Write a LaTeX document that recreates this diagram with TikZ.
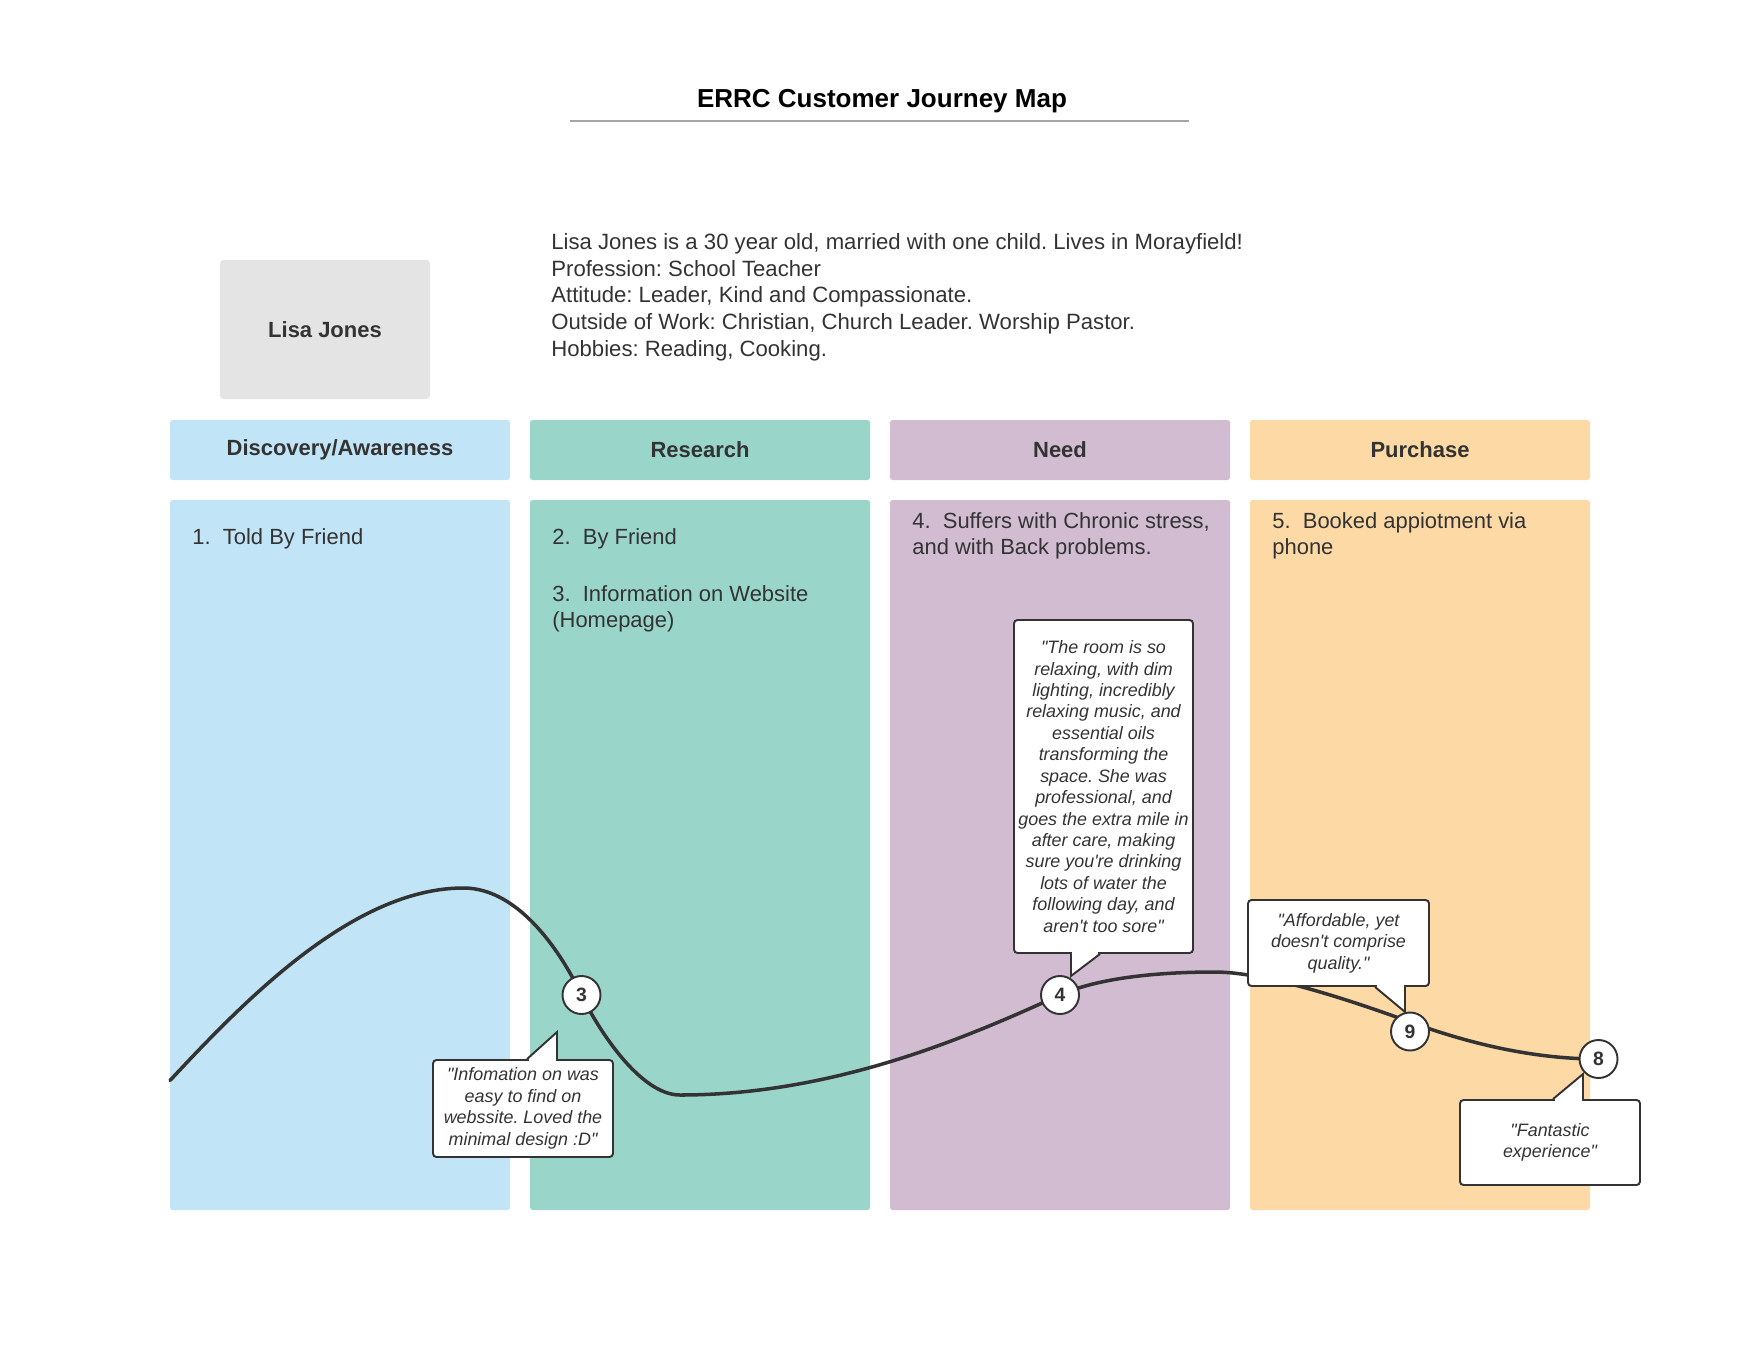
\documentclass[tikz,border=0pt]{standalone}
\usepackage{fontspec}
\setmainfont{Liberation Sans}
\usetikzlibrary{positioning}

\definecolor{ink}{HTML}{333333}
\definecolor{discblue}{HTML}{C1E4F6}
\definecolor{resteal}{HTML}{9AD5CA}
\definecolor{needmauve}{HTML}{D2BCD2}
\definecolor{buyorange}{HTML}{FDD9A6}
\definecolor{personagrey}{HTML}{E4E4E4}

\frenchspacing

\begin{document}
\begin{tikzpicture}[
    node distance=0.4cm,
    every node/.style={text=ink},
    stagehead/.style={rectangle, rounded corners=1.5pt, outer sep=0pt, minimum width=6.8cm, minimum height=1.2cm, font=\fontsize{12.5}{15}\selectfont\bfseries},
    stagebody/.style={rectangle, rounded corners=1.5pt, outer sep=0pt, minimum width=6.8cm, minimum height=14.2cm},
    stagetext/.style={anchor=north west, inner sep=0pt, align=left, font=\fontsize{12.5}{15}\selectfont},
    remark/.style={draw=ink, line width=1.1pt, fill=white, rounded corners=2pt, minimum width=3.6cm, inner sep=0pt, align=center, font=\fontsize{10.2}{12.2}\selectfont\itshape},
    touchpoint/.style={circle, draw=ink, line width=1.1pt, fill=white, minimum size=0.76cm, inner sep=0pt, font=\fontsize{11}{13}\selectfont\bfseries},
    tail/.style={draw=ink, line width=1.1pt, fill=white}
]
\useasboundingbox (0,0) rectangle (35.2,-27.2);

% Titulo
\node[anchor=base, text=black, font=\fontsize{14.8}{18}\selectfont\bfseries] (title) at (17.64,-2.16) {ERRC Customer Journey Map};
\draw[black!35, line width=1.1pt] (11.4,-2.42) -- (23.78,-2.42);

% Persona
\node[rectangle, rounded corners=2pt, fill=personagrey, minimum width=4.2cm, minimum height=2.78cm, font=\fontsize{12.5}{15}\selectfont\bfseries] (persona) at (6.5,-6.59) {Lisa Jones};

\node[stagetext, font=\fontsize{12.6}{15.2}\selectfont] (profile) at (11.02,-4.66)
{Lisa Jones is a 30 year old, married with one child. Lives in Morayfield!\\
Profession: School Teacher\\
Attitude: Leader, Kind and Compassionate.\\
Outside of Work: Christian, Church Leader. Worship Pastor.\\
Hobbies: Reading, Cooking.};

% Etapas
\node[stagehead, fill=discblue] (head1) at (6.8,-9) {Discovery/Awareness};
\node[stagehead, fill=resteal, right=of head1] (head2) {Research};
\node[stagehead, fill=needmauve, right=of head2] (head3) {Need};
\node[stagehead, fill=buyorange, right=of head3] (head4) {Purchase};

\node[stagebody, fill=discblue, below=of head1] (body1) {};
\node[stagebody, fill=resteal, below=of head2] (body2) {};
\node[stagebody, fill=needmauve, below=of head3] (body3) {};
\node[stagebody, fill=buyorange, below=of head4] (body4) {};

% Pasos
\node[stagetext] (step1) at ([shift={(0.44,-0.56)}]body1.north west) {1.~~Told By Friend};
\node[stagetext] (step2) at ([shift={(0.44,-0.56)}]body2.north west) {2.~~By Friend};
\node[stagetext] (step3) at ([shift={(0.44,-1.7)}]body2.north west) {3.~~Information on Website\\(Homepage)};
\node[stagetext] (step4) at ([shift={(0.44,-0.24)}]body3.north west) {4.~~Suffers with Chronic stress,\\and with Back problems.};
\node[stagetext] (step5) at ([shift={(0.44,-0.24)}]body4.north west) {5.~~Booked appiotment via\\phone};

% Curva
\coordinate (c3) at (11.63,-19.90);
\coordinate (c4) at (21.20,-19.90);
\coordinate (c9) at (28.20,-20.63);
\coordinate (c8) at (31.97,-21.18);

\draw[ink, line width=2pt, line cap=round]
  (3.40,-21.61) .. controls (4.9,-20.0) and (7.07,-17.76) .. (9.27,-17.76)
  .. controls (10.4,-17.76) and (11.25,-19.1) .. (c3)
  .. controls (11.96,-20.58) and (12.8,-21.9) .. (13.6,-21.9)
  .. controls (16.8,-21.9) and (19.56,-20.64) .. (c4)
  .. controls (22.02,-19.53) and (23.3,-19.44) .. (24.3,-19.44)
  .. controls (25.3,-19.44) and (27.0,-20.0) .. (28.2,-20.44)
  .. controls (29.3,-20.84) and (30.6,-21.18) .. (c8);

% Comentarios
\node[remark, minimum height=1.94cm] (say3) at (10.46,-22.17)
{\textquotedbl Infomation on was\\easy to find on\\webssite. Loved the\\minimal design :D\textquotedbl};
\node[remark, minimum width=3.58cm, minimum height=6.66cm] (say4) at (22.07,-15.73)
{\textquotedbl The room is so\\relaxing, with dim\\lighting, incredibly\\relaxing music, and\\essential oils\\transforming the\\space. She was\\professional, and\\goes the extra mile in\\after care, making\\sure you\textquotesingle re drinking\\lots of water the\\following day, and\\aren\textquotesingle t too sore\textquotedbl};
\node[remark, minimum width=3.62cm, minimum height=1.72cm] (say9) at (26.77,-18.86)
{\textquotedbl Affordable, yet\\doesn\textquotesingle t comprise\\quality.\textquotedbl};
\node[remark, minimum height=1.7cm] (say8) at (31.0,-22.85)
{\textquotedbl Fantastic\\experience\textquotedbl};

\draw[tail] ([xshift=0.08cm]say3.north) -- ([shift={(0.68,0.54)}]say3.north) -- ([xshift=0.68cm]say3.north);
\fill[white] ([shift={(0.12,-0.03)}]say3.north) rectangle ([xshift=0.66cm]say3.north);

\draw[tail] ([xshift=-0.65cm]say4.south) -- ([shift={(-0.65,-0.44)}]say4.south) -- ([xshift=-0.07cm]say4.south);
\fill[white] ([xshift=-0.63cm]say4.south) rectangle ([shift={(-0.11,0.03)}]say4.south);

\draw[tail] ([xshift=0.73cm]say9.south) -- ([shift={(1.33,-0.5)}]say9.south) -- ([xshift=1.33cm]say9.south);
\fill[white] ([xshift=0.77cm]say9.south) rectangle ([shift={(1.31,0.03)}]say9.south);

\draw[tail] ([xshift=0.06cm]say8.north) -- ([shift={(0.66,0.5)}]say8.north) -- ([xshift=0.66cm]say8.north);
\fill[white] ([shift={(0.10,-0.03)}]say8.north) rectangle ([xshift=0.64cm]say8.north);

% Puntos de contacto
\node[touchpoint] (m3) at (c3) {3};
\node[touchpoint] (m4) at (c4) {4};
\node[touchpoint] (m9) at (c9) {9};
\node[touchpoint] (m8) at (c8) {8};

\end{tikzpicture}
\end{document}
